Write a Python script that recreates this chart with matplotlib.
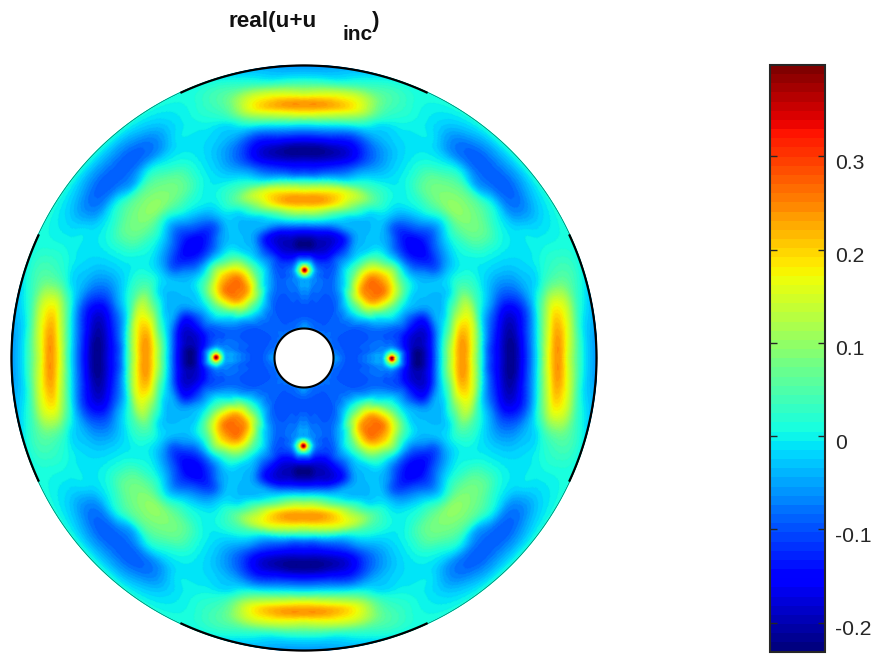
import numpy as np
import matplotlib
matplotlib.use("Agg")
import matplotlib.pyplot as plt
from matplotlib.colors import ListedColormap, Normalize
from matplotlib.transforms import ScaledTranslation

plt.rcParams['font.family'] = ['Liberation Sans', 'DejaVu Sans']

# Field: one octant, radius in picture pixels, angle in degrees
radii = [30, 45, 60, 72, 80, 84, 88, 92, 96, 104, 112, 125, 137, 147, 159, 171,
         183, 195, 208, 221, 233, 245, 254, 265, 280, 293]
angles = [0, 3, 6, 12, 18, 24, 30, 35, 40, 45]
field_a0  = [-.05, -.10, -.08, -.05, -.01, .15, .39, .15, -.01, -.15, -.22, -.16, -.01, .13, .24, .12,
             -.07, -.16, -.22, -.13, -.01, .17, .24, .14, .00, -.06]
field_a3  = [-.05, -.10, -.08, -.05, -.03, .05, .12, .05, -.03, -.15, -.22, -.16, -.01, .13, .24, .13,
             -.07, -.16, -.22, -.13, -.01, .16, .24, .15, .00, -.06]
field_a6  = [-.06, -.10, -.09, -.07, -.06, -.04, -.02, -.05, -.09, -.16, -.20, -.16, -.02, .11, .235, .14,
             -.05, -.15, -.21, -.13, -.02, .14, .225, .16, .00, -.05]
field_a12 = [-.07, -.10, -.09, -.08, -.08, -.09, -.09, -.10, -.11, -.15, -.18, -.17, -.05, .04, .18, .16,
             -.02, -.11, -.175, -.14, -.05, .08, .16, .15, .03, -.03]
field_a18 = [-.08, -.10, -.10, -.09, -.09, -.09, -.09, -.09, -.09, -.09, -.12, -.14, -.05, -.02, .08, .13,
             .03, -.04, -.09, -.08, -.04, -.01, .03, .05, .04, .00]
field_a24 = [-.08, -.10, -.10, -.08, -.06, -.05, -.04, -.03, -.02, -.03, -.05, -.05, -.04, -.04, -.01, .05,
             .03, -.01, -.03, -.03, -.02, -.01, .00, .01, .01, .01]
field_a30 = [-.08, -.10, -.09, -.05, .00, .01, .03, .05, .06, .06, .03, -.02, -.03, -.03, -.03, -.01,
             .00, .00, .01, .01, .00, -.01, -.01, -.02, -.01, .01]
field_a35 = [-.08, -.09, -.07, .00, .08, .10, .14, .16, .17, .17, .13, .03, -.03, -.06, -.10, -.06,
             -.01, .02, .06, .06, .02, -.02, -.06, -.07, -.03, .01]
field_a40 = [-.08, -.09, -.06, .04, .14, .18, .22, .24, .25, .25, .20, .06, -.05, -.11, -.14, -.09,
             -.03, .03, .08, .08, .05, -.01, -.07, -.09, -.05, .01]
field_a45 = [-.07, -.09, -.05, .05, .15, .20, .24, .25, .26, .26, .22, .10, -.05, -.13, -.16, -.12,
             -.07, .00, .09, .09, .05, -.05, -.08, -.09, -.05, .01]

tick_values = [-0.2, -0.1, 0, 0.1, 0.2, 0.3]
tick_labels = ['-0.2', '-0.1', '0', '0.1', '0.2', '0.3']
color_min, color_max = -0.231, 0.398
title_main, title_sub, title_end = 'real(u+u', 'inc', ')'
bold_rim_centres = [0, 90, 180, 270]
bold_rim_halfwidth = 25


def smooth_along(xs, values, xq, axis):
    """Piecewise cubic (C1) through the table along one axis."""
    v = np.moveaxis(values, axis, 0)
    d = np.diff(xs)
    shape = (-1,) + (1,) * (v.ndim - 1)
    s = np.diff(v, axis=0) / d.reshape(shape)
    m = np.empty_like(v)
    h0, h1 = d[:-1].reshape(shape), d[1:].reshape(shape)
    m[1:-1] = (h1 * s[:-1] + h0 * s[1:]) / (h0 + h1)
    m[0], m[-1] = s[0], s[-1]
    i = np.clip(np.searchsorted(xs, xq) - 1, 0, len(xs) - 2)
    h = d[i].reshape(shape)
    t = ((xq - xs[i]) / d[i]).reshape(shape)
    out = ((2 * t**3 - 3 * t**2 + 1) * v[i] + (t**3 - 2 * t**2 + t) * h * m[i]
           + (-2 * t**3 + 3 * t**2) * v[i + 1] + (t**3 - t**2) * h * m[i + 1])
    return np.moveaxis(out, 0, axis)


W, H = 880, 663
fig = plt.figure(figsize=(W / 100, H / 100), dpi=100)
ax = fig.add_axes([11 / W, (H - 651) / H, 586 / W, 586 / H])
ax.set_xlim(-293, 293)
ax.set_ylim(-293, 293)
ax.set_aspect('equal')
ax.axis('off')

octant = np.array([field_a0, field_a3, field_a6, field_a12, field_a18, field_a24,
                   field_a30, field_a35, field_a40, field_a45])
ang = np.array(angles, float)
a_full = np.concatenate([-ang[:0:-1], ang, 90 - ang[-2::-1]])
table = np.vstack([octant[:0:-1], octant, octant[-2::-1]])
rr = np.array(radii, float)

r_fine = np.linspace(rr[0], rr[-1], 440)
t_fine = np.linspace(0, 360, 1441)
folded = np.abs(((t_fine + 45) % 90) - 45)
Z = smooth_along(rr, table, r_fine, axis=1)
Z = smooth_along(a_full, Z, folded, axis=0)
Z = np.clip(Z, color_min, color_max)

T, Rf = np.meshgrid(t_fine, r_fine, indexing='ij')
cmap = ListedColormap(plt.get_cmap('jet')(np.linspace(0, 1, 64)))
norm = Normalize(color_min, color_max)
X = Rf * np.cos(np.deg2rad(T))
Y = Rf * np.sin(np.deg2rad(T))
mesh = ax.pcolormesh(X, Y, Z, cmap=cmap, norm=norm, shading='gouraud', rasterized=True)

# Rims
full = np.deg2rad(np.linspace(0, 360, 721))
ax.plot(293 * np.cos(full), 293 * np.sin(full), color='k', lw=0.25, clip_on=False)
for c in bold_rim_centres:
    th = np.deg2rad(np.linspace(c - bold_rim_halfwidth, c + bold_rim_halfwidth, 120))
    ax.plot(292.5 * np.cos(th), 292.5 * np.sin(th), color='k', lw=1.6, clip_on=False,
            solid_capstyle='butt')
ax.fill(29.5 * np.cos(full), 29.5 * np.sin(full), facecolor='white', edgecolor='k', lw=1.5, zorder=5)

# Colour bar
cax = fig.add_axes([769.5 / W, (H - 651.5) / H, 55.5 / W, 586.5 / H])
cb = fig.colorbar(mesh, cax=cax, ticks=tick_values)
cb.outline.set_edgecolor('#262626')
cb.outline.set_linewidth(1.5)
cax.tick_params(axis='y', direction='in', left=True, right=True, length=5, width=1.0,
                color='#262626', labelcolor='#262626', labelsize=15.2, pad=7.0)
cax.set_yticklabels(tick_labels)
shift = ScaledTranslation(0, -5 / 100, fig.dpi_scale_trans)
for lab in cax.get_yticklabels():
    lab.set_transform(lab.get_transform() + shift)

# Title pieces
fig.text(228 / W, 1 - 21 / H, title_main, fontsize=16.2, fontweight='bold', color='#111111',
         ha='left', va='center')
fig.text(342 / W, 1 - 35 / H, title_sub, fontsize=15, fontweight='bold', color='#111111',
         ha='left', va='center')
fig.text(371.5 / W, 1 - 21 / H, title_end, fontsize=16.2, fontweight='bold', color='#111111',
         ha='left', va='center')

fig.savefig('out.png', dpi=100)
